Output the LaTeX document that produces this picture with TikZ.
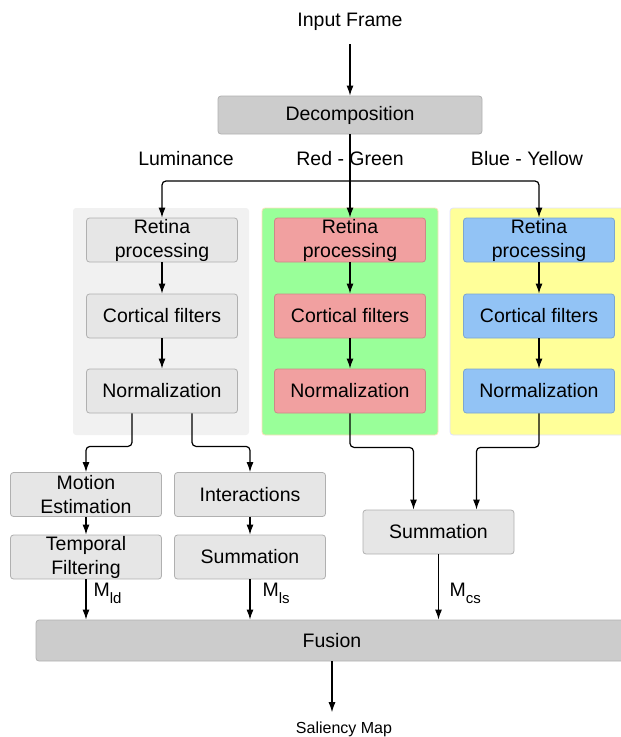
\documentclass[tikz,border=0pt]{standalone}
\usepackage{fontspec}
\setmainfont{Liberation Sans}
\usepackage{tikz}
\usetikzlibrary{arrows.meta}

\definecolor{darkbox}{HTML}{CCCCCC}
\definecolor{boxedge}{HTML}{B0B0B0}
\definecolor{lightbox}{HTML}{E6E6E6}
\definecolor{panelgray}{HTML}{F1F1F1}
\definecolor{panelgreen}{HTML}{99FF99}
\definecolor{panelyellow}{HTML}{FFFF99}
\definecolor{redbox}{HTML}{F1A0A0}
\definecolor{bluebox}{HTML}{92C3F5}

\newcommand{\subtxt}[1]{\raisebox{-7pt}{\fontsize{15}{15}\selectfont #1}} % 添字

\begin{document}
\begin{tikzpicture}[x=1pt, y=-1pt, line width=1.2pt, >={Latex[length=10pt,width=7pt]},
  font=\fontsize{19.5}{24}\selectfont,
  blk/.style={draw=boxedge, line width=0.8pt, fill=lightbox, rounded corners=3pt,
    minimum width=151pt, minimum height=44pt, inner sep=0pt, align=center},
  darkblk/.style={blk, fill=darkbox},
  redblk/.style={blk, fill=redbox, draw=redbox!85!black},
  blueblk/.style={blk, fill=bluebox, draw=bluebox!85!black},
  link/.style={->, rounded corners=4pt}]
  \useasboundingbox (0,0) rectangle (621,737); % 余白込みの大きさ
  \clip (0,0) rectangle (621,737);

  % 背景のパネル
  \fill[panelgray, rounded corners=3pt] (73,208) rectangle (249,435);
  \filldraw[fill=panelgreen, draw=orange!25, line width=0.8pt, rounded corners=3pt] (262,208) rectangle (438,435);
  \filldraw[fill=panelyellow, draw=blue!12, line width=0.8pt, rounded corners=3pt] (450,208) rectangle (630,435);

  \node[outer sep=10pt] (in) at (350,22) {Input Frame}; % 入力
  \node[darkblk, minimum width=264pt, minimum height=38pt] (dec) at (350,115) {Decomposition};

  \node (lumlab) at (186,159) {Luminance}; % チャネル名
  \node (rglab) at (350,159) {Red - Green};
  \node (bylab) at (527,159) {Blue - Yellow};

  % 3つのチャネル
  \foreach \c/\cx/\s in {lum/162/blk, rg/350/redblk, by/539/blueblk} {
    \node[\s] (\c1) at (\cx,240) {Retina\\processing};
    \node[\s] (\c2) at (\cx,316) {Cortical filters};
    \node[\s] (\c3) at (\cx,391) {Normalization};
    \draw[->] (\c1) -- (\c2);
    \draw[->] (\c2) -- (\c3);
  }

  \draw[->] (in) -- (dec);
  \draw[->] (dec) -- (rg1);
  \coordinate (split) at (350,181); % 分岐点
  \draw[link] (split) -| (lum1);
  \draw[link] (split) -| (by1);

  % 下段
  \node[blk] (mot) at (86,494.5) {Motion\\Estimation};
  \node[blk] (temp) at (86,557) {Temporal\\Filtering};
  \node[blk] (int) at (250,494.5) {Interactions};
  \node[blk] (suml) at (250,557) {Summation};
  \node[blk] (sumc) at (438.5,532) {Summation};
  \node[darkblk, minimum width=592pt, minimum height=41pt] (fus) at (332,640.5) {Fusion};
  \node[font=\fontsize{16}{18}\selectfont, outer sep=6pt] (sal) at (344,729) {Saliency Map}; % 出力

  \draw[link] ([xshift=-30pt]lum3.south) -- ++(0,33) -| (mot);
  \draw[link] ([xshift=30pt]lum3.south) -- ++(0,33) -| (int);
  \draw[link] (rg3.south) -- ++(0,34) -| ([xshift=-25pt]sumc.north);
  \draw[link] (by3.south) -- ++(0,34) -| ([xshift=38pt]sumc.north);
  \draw[->] (mot) -- (temp);
  \draw[->] (int) -- (suml);
  \draw[->] (temp) -- (temp |- fus.north);
  \draw[->] (suml) -- (suml |- fus.north);
  \draw[->] (sumc) -- (sumc |- fus.north);
  \draw[->] (fus) -- (fus |- sal.north);

  \node[anchor=base west, inner sep=0pt] (mld) at (93,596) {M\subtxt{ld}}; % マップ名
  \node[anchor=base west, inner sep=0pt] (mls) at (262,596) {M\subtxt{ls}};
  \node[anchor=base west, inner sep=0pt] (mcs) at (449,596) {M\subtxt{cs}};
\end{tikzpicture}
\end{document}
